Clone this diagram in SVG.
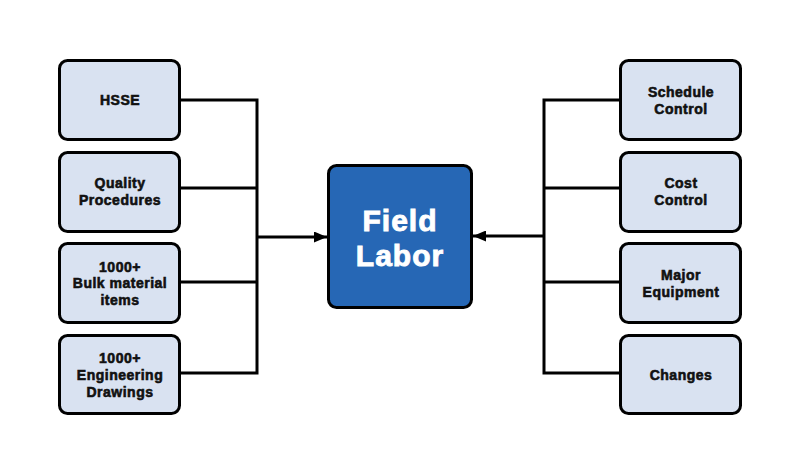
<svg xmlns="http://www.w3.org/2000/svg" width="800" height="475" viewBox="0 0 800 475">
<defs>
<marker id="ah" viewBox="0 0 13 11" refX="13" refY="5.5" markerWidth="13" markerHeight="11" markerUnits="userSpaceOnUse" orient="auto">
<path d="M0,0 L13,5.5 L0,11 Z" fill="#000"/>
</marker>
</defs>
<style>
.box{fill:#d9e2f1;stroke:#000;stroke-width:3}
.main{fill:#2667b5;stroke:#000;stroke-width:3}
.t{font-family:"Liberation Sans",Arial,sans-serif;font-weight:bold;font-size:14px;fill:#111;stroke:#111;stroke-width:0.6;letter-spacing:0.5px;text-anchor:middle}
.mt{font-family:"Liberation Sans",Arial,sans-serif;font-weight:bold;font-size:30px;fill:#fff;stroke:#fff;stroke-width:0.9;letter-spacing:1px;text-anchor:middle}
.c{fill:none;stroke:#000;stroke-width:3}
</style>
<rect width="800" height="475" fill="#fff"/>
<g id="connectors">
<path class="c" d="M180,100 H257 M180,188 H257 M180,282 H257 M180,373 H257 M257,98.5 V374.5"/>
<path class="c" d="M257,237 H327" marker-end="url(#ah)"/>
<path class="c" d="M620,100 H544 M620,188 H544 M620,282 H544 M620,373 H544 M544,98.5 V374.5"/>
<path class="c" d="M544,236 H473" marker-end="url(#ah)"/>
</g>
<g id="hsse"><rect class="box" x="59.5" y="60.5" width="120" height="79" rx="8"/><text class="t" x="120" y="105">HSSE</text></g>
<g id="quality"><rect class="box" x="59.5" y="152.5" width="120" height="79" rx="8"/><text class="t" x="120" y="188">Quality</text><text class="t" x="120" y="205">Procedures</text></g>
<g id="bulk"><rect class="box" x="59.5" y="243.5" width="120" height="79" rx="8"/><text class="t" x="120" y="272">1000+</text><text class="t" x="120" y="288">Bulk material</text><text class="t" x="120" y="305">items</text></g>
<g id="engineering"><rect class="box" x="59.5" y="335.5" width="120" height="78" rx="8"/><text class="t" x="120" y="363">1000+</text><text class="t" x="120" y="380">Engineering</text><text class="t" x="120" y="397">Drawings</text></g>
<g id="field-labor"><rect class="main" x="328.5" y="165.5" width="143" height="142" rx="8"/><text class="mt" x="400" y="231">Field</text><text class="mt" x="400" y="266">Labor</text></g>
<g id="schedule"><rect class="box" x="620.5" y="60.5" width="120" height="79" rx="8"/><text class="t" x="681" y="97">Schedule</text><text class="t" x="681" y="114">Control</text></g>
<g id="cost"><rect class="box" x="620.5" y="152.5" width="120" height="79" rx="8"/><text class="t" x="681" y="188">Cost</text><text class="t" x="681" y="205">Control</text></g>
<g id="equipment"><rect class="box" x="620.5" y="243.5" width="120" height="79" rx="8"/><text class="t" x="681" y="280">Major</text><text class="t" x="681" y="297">Equipment</text></g>
<g id="changes"><rect class="box" x="620.5" y="335.5" width="120" height="78" rx="8"/><text class="t" x="681" y="380">Changes</text></g>
</svg>
